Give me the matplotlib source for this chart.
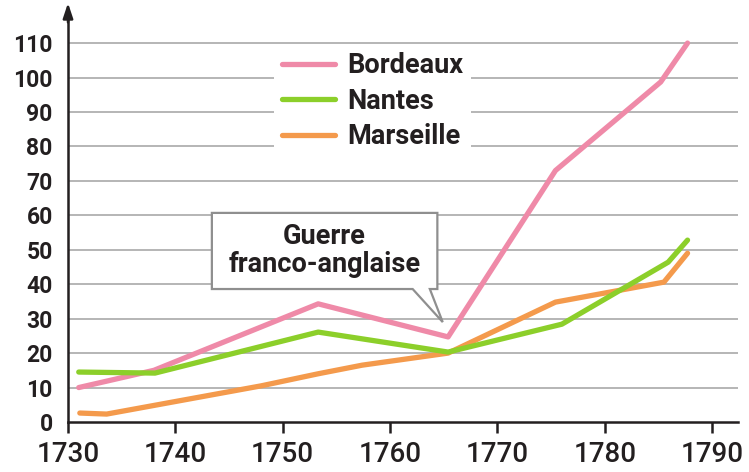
import matplotlib.pyplot as plt
from matplotlib.patches import Polygon

plt.rcParams['font.family'] = ['Roboto', 'DejaVu Sans']

# data
bordeaux_years = [1731, 1738, 1753.3, 1765.4, 1775.4, 1785.2, 1787.7]
bordeaux_vals = [10, 15, 34.3, 24.7, 73, 98.7, 110]

nantes_years = [1731, 1738.1, 1753.3, 1765.4, 1776, 1785.9, 1787.7]
nantes_vals = [14.5, 14.2, 26.1, 20.3, 28.4, 46.4, 52.8]

marseille_years = [1731.1, 1733.6, 1748, 1753.3, 1757.4, 1765.4, 1775.4, 1785.5, 1787.7]
marseille_vals = [2.6, 2.3, 10.5, 14, 16.5, 20, 34.8, 40.6, 49]

x_ticks = [1730, 1740, 1750, 1760, 1770, 1780, 1790]
y_ticks = [0, 10, 20, 30, 40, 50, 60, 70, 80, 90, 100, 110]

annot_text = "Guerre\nfranco-anglaise"

pink = '#ef8aa8'
green = '#8ccf2a'
orange = '#f49a4c'
dark = '#231f20'

fig = plt.figure(figsize=(7.49, 4.72), dpi=100)
ax = fig.add_axes([68 / 749, 50 / 472, 670 / 749, 412 / 472])

ax.set_xlim(1730, 1792.4)
ax.set_ylim(0, 119.6)

for v in y_ticks[1:]:
    ax.axhline(v, color='#b5b5b5', lw=1.4, zorder=1)

ax.plot(bordeaux_years, bordeaux_vals, color=pink, lw=3.8, label='Bordeaux',
        solid_capstyle='round', solid_joinstyle='round', zorder=3)
ax.plot(marseille_years, marseille_vals, color=orange, lw=3.8, label='Marseille',
        solid_capstyle='round', solid_joinstyle='round', zorder=3)
ax.plot(nantes_years, nantes_vals, color=green, lw=3.8, label='Nantes',
        solid_capstyle='round', solid_joinstyle='round', zorder=4)

for s in ['top', 'right']:
    ax.spines[s].set_visible(False)
ax.spines['left'].set_color(dark)
ax.spines['bottom'].set_color(dark)
ax.spines['left'].set_linewidth(1.8)
ax.spines['bottom'].set_linewidth(1.8)
ax.spines['left'].set_zorder(6)

# arrow on top of y axis
ax.annotate('', xy=(0, 1.017), xycoords='axes fraction',
            xytext=(0, 0.97), textcoords='axes fraction',
            arrowprops=dict(arrowstyle='-|>,head_length=0.9,head_width=0.3',
                            color=dark, lw=1.8, shrinkA=0, shrinkB=0),
            annotation_clip=False)

ax.set_xticks(x_ticks)
ax.set_xticklabels([str(t) for t in x_ticks], fontsize=20, fontweight='medium', color=dark)
ax.tick_params(axis='x', length=8, width=1.8, color=dark, pad=6, direction='out')
ax.set_yticks(y_ticks)
ax.set_yticklabels([str(t) for t in y_ticks], fontsize=16.5, fontweight='bold', color=dark)
ax.tick_params(axis='y', length=0, pad=11)

handles, labels = ax.get_legend_handles_labels()
order = [0, 2, 1]
leg = ax.legend([handles[i] for i in order], [labels[i] for i in order],
                loc='upper left', bbox_to_anchor=(274 / 749, 1 - 44 / 472),
                bbox_transform=fig.transFigure, frameon=True, fontsize=19.5,
                handlelength=1.95, handletextpad=0.45, labelspacing=0.32,
                borderpad=0.3, borderaxespad=0)
leg.get_frame().set_facecolor('white')
leg.get_frame().set_edgecolor('none')
leg.get_frame().set_alpha(1)
for t in leg.get_texts():
    t.set_fontweight('bold')
    t.set_color(dark)
leg.set_zorder(5)

# callout pointing at the Bordeaux trough
tip_x = bordeaux_years[3] - 0.5
tip_y = bordeaux_vals[3] + 4.3
bx0, bx1 = 1743.4, 1764.4
by0, by1 = 38.6, 60.7
callout = Polygon([(bx0, by0), (1762.1, by0), (tip_x, tip_y), (1763.7, by0),
                   (bx1, by0), (bx1, by1), (bx0, by1)], closed=True,
                  facecolor='white', edgecolor='#8f8f8f', lw=1.6, zorder=7)
ax.add_patch(callout)
ax.text((bx0 + bx1) / 2, (by0 + by1) / 2, annot_text, ha='center', va='center',
        fontsize=19.5, fontweight='bold', color=dark, linespacing=1.05, zorder=8)

fig.savefig('out.png', dpi=100)
